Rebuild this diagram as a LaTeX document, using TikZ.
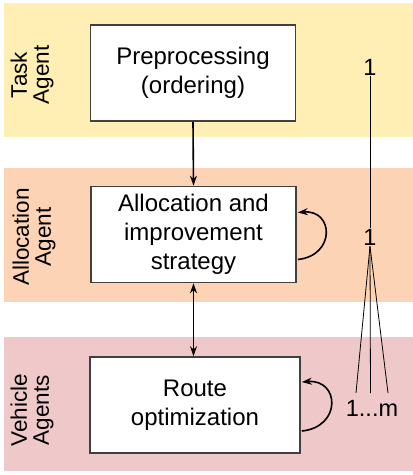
\documentclass[tikz,border=0pt]{standalone}
\usepackage{fontspec}
\setmainfont{Liberation Sans}
\usetikzlibrary{arrows.meta}
\definecolor{taskbg}{RGB}{255,239,180}
\definecolor{allocbg}{RGB}{252,211,180}
\definecolor{vehbg}{RGB}{239,201,201}
\definecolor{boxline}{RGB}{64,64,64}
\tikzset{
  procbox/.style={draw=boxline, line width=1.6pt, fill=white, align=center,
    minimum width=205pt, minimum height=96pt, inner sep=0pt,
    font=\fontsize{24}{29}\selectfont},
  sidelabel/.style={rotate=90, align=center, inner sep=0pt,
    font=\fontsize{22.5}{22}\selectfont},
  numlabel/.style={inner sep=1pt, font=\fontsize{23.5}{26}\selectfont},
  flow/.style={line width=1.6pt, -{Stealth[length=10pt,width=7pt]}},
  flowboth/.style={line width=1.6pt, {Stealth[length=10pt,width=7pt]}-{Stealth[length=10pt,width=7pt]}},
  thin/.style={line width=0.8pt}
}
\begin{document}
\begin{tikzpicture}[x=1pt,y=-1pt]
\useasboundingbox (0,0) rectangle (413,475);
% bands
\fill[taskbg] (4,3) rectangle (413,137);
\fill[allocbg] (4,168) rectangle (413,302);
\fill[vehbg] (4,337) rectangle (413,471);
% side labels
\node[sidelabel] (lt) at (32,75) {Task\\Agent};
\node[sidelabel] (la) at (34,237) {Allocation\\Agent};
\node[sidelabel] (lv) at (32,410) {Vehicle\\Agents};
% boxes
\node[procbox] (pre) at (193,73) {Preprocessing\\(ordering)};
\node[procbox] (alloc) at (193.5,234.5) {Allocation and\\improvement\\strategy};
\node[procbox, minimum width=210pt] (route) at (195,405) {Route\\optimization};
% arrows
\draw[flow] (pre.south) -- (alloc.north);
\draw[flowboth] (alloc.south) -- (alloc.south |- route.north);
\draw[flow] ([xshift=1pt,yshift=-25pt]alloc.east) .. controls +(38,-4) and +(36,-3) .. ([xshift=1pt,yshift=22pt]alloc.east);
\draw[flow] ([xshift=1pt,yshift=-26pt]route.east) .. controls +(40,-4) and +(38,-3) .. ([xshift=1pt,yshift=23pt]route.east);
% multiplicity
\node[numlabel] (n1) at (370,67) {1};
\node[numlabel] (n2) at (370,237) {1};
\node[numlabel] (nm) at (372,408) {1...m};
\coordinate (fl) at (356,393);
\coordinate (fm) at (370.5,393);
\coordinate (fr) at (388,393);
\draw[thin] (n1.south) -- (n2.north);
\draw[thin] (n2.south) -- (fl);
\draw[thin] (n2.south) -- (fm);
\draw[thin] (n2.south) -- (fr);
\end{tikzpicture}
\end{document}
